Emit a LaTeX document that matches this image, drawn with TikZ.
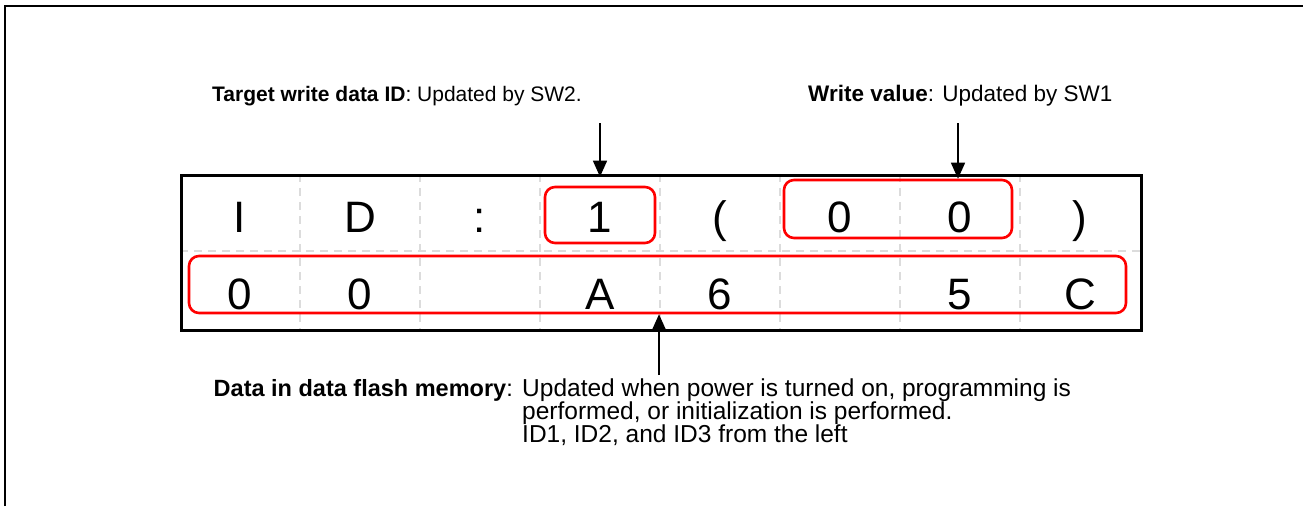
\documentclass[tikz,border=0pt]{standalone}
\usepackage{fontspec}
\setmainfont{Liberation Sans}
\usetikzlibrary{arrows.meta}
\definecolor{gridgray}{RGB}{220,220,220}
\definecolor{boxred}{RGB}{255,0,0}
\begin{document}
\begin{tikzpicture}[x=1pt,y=-1pt,
  gridline/.style={draw=gridgray,line width=1.8pt,dash pattern=on 8pt off 6pt},
  cell/.style={anchor=base,inner sep=0pt,font=\fontsize{44}{44}\selectfont},
  redbox/.style={draw=boxred,line width=2.6pt,rounded corners=10pt,inner sep=0pt},
  ptr/.style={line width=1.5pt,-{Triangle[width=14pt,length=16pt]}},
  lbl/.style={inner sep=0pt,font=\fontsize{21}{25}\selectfont},
  desc/.style={inner sep=0pt,font=\fontsize{23.5}{28}\selectfont}]
\useasboundingbox (0,0) rectangle (1303,506);
\draw[line width=2pt] (5,506) -- (5,6) -- (1303,6);
% grid
\foreach \x in {300,420,540,660,780,900,1020}
  \draw[gridline] (\x,174) -- (\x,329);
\draw[gridline] (180,251) -- (1140,251);
\node[draw,line width=2.6pt,minimum width=960pt,minimum height=155pt,inner sep=0pt,anchor=north west] (tbl) at (180,174) {};
% row 1
\node[cell] (c11) at (240,232) {I};
\node[cell] (c12) at (360,232) {D};
\node[cell] (c13) at (480,232) {:};
\node[cell] (c14) at (600,232) {1};
\node[cell] (c15) at (720,232) {(};
\node[cell] (c16) at (840,232) {0};
\node[cell] (c17) at (960,232) {0};
\node[cell] (c18) at (1080,232) {)};
% row 2
\node[cell] (c21) at (240,309) {0};
\node[cell] (c22) at (360,309) {0};
\node[cell] (c24) at (600,309) {A};
\node[cell] (c25) at (720,309) {6};
\node[cell] (c27) at (960,309) {5};
\node[cell] (c28) at (1080,309) {C};
% red boxes
\node[redbox,minimum width=110pt,minimum height=56pt] (box1) at (600,215) {};
\node[redbox,minimum width=228pt,minimum height=58pt] (box00) at (898,209) {};
\node[redbox,minimum width=937pt,minimum height=57pt] (boxrow) at (657.5,284.5) {};
% labels
\node[lbl,anchor=base west] (lblid) at (212,101) {\textbf{Target write data ID}: Updated by SW2.};
\node[lbl,anchor=base west,font=\fontsize{22.5}{27}\selectfont] (lblval) at (808,101) {\textbf{Write value}: Updated by SW1};
\node[desc,anchor=base east] (lbldata) at (513,396) {\textbf{Data in data flash memory}:};
\node[desc,anchor=base west,font=\fontsize{24.5}{29}\selectfont] (desc1) at (522,396) {Updated when power is turned on, programming is};
\node[desc,anchor=base west,font=\fontsize{24.5}{29}\selectfont] (desc2) at (522,419) {performed, or initialization is performed.};
\node[desc,anchor=base west,font=\fontsize{24.5}{29}\selectfont] (desc3) at (522,442) {ID1, ID2, and ID3 from the left};
% arrows
\coordinate (a1) at (600,123);
\coordinate (a2) at (958,123);
\coordinate (a3) at (659,375);
\draw[ptr,shorten >=9pt] (a1) -- (box1.north);
\draw[ptr] (a2) -- (a2 |- box00.north);
\draw[ptr] (a3) -- (a3 |- boxrow.south);
\end{tikzpicture}
\end{document}
